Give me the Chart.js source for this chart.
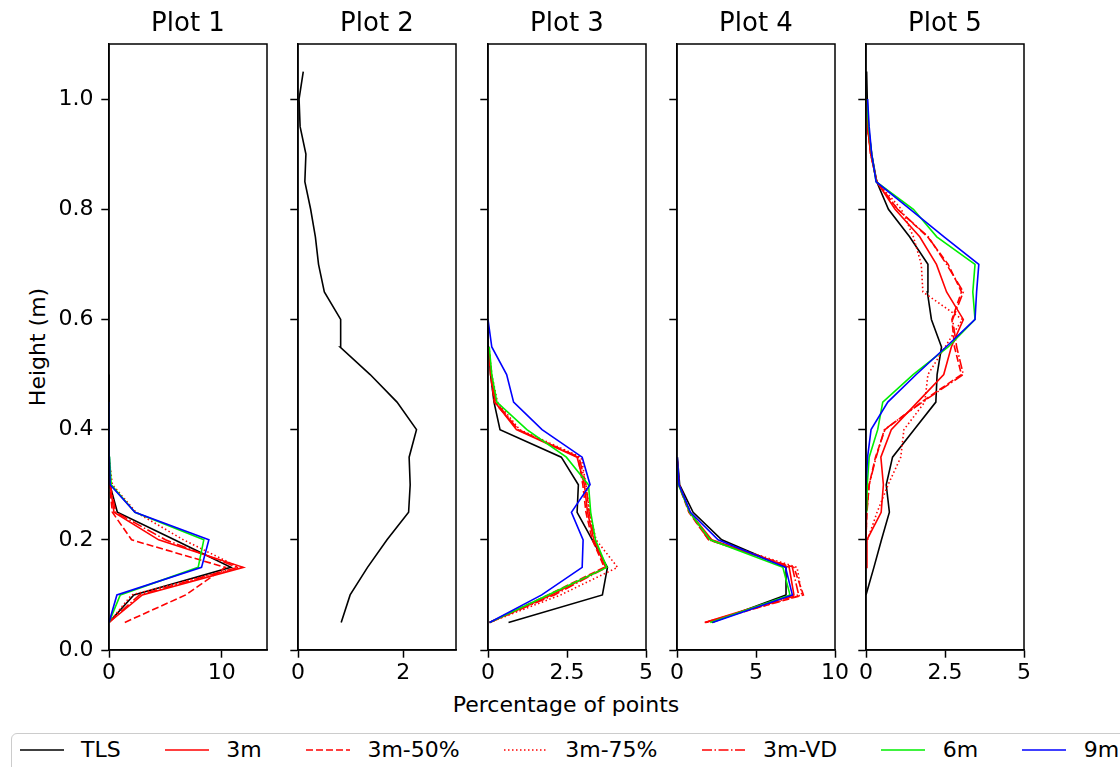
<!DOCTYPE html>
<html>
<head>
<meta charset="utf-8">
<title>Vertical point distribution</title>
<script src="https://cdn.jsdelivr.net/npm/chart.js@4.4.1/dist/chart.umd.min.js"></script>
<style>
  html, body { margin: 0; padding: 0; background: #fff; }
  #fig { position: relative; width: 1120px; height: 767px; overflow: hidden; font-family: 'DejaVu Sans', sans-serif; color: #000; }
  #fig canvas { position: absolute; top: 0; }
  .ylabel { position: absolute; left: 38px; top: 347px; font-size: 22px; line-height: 26px; white-space: nowrap; transform: translate(-50%, -50%) rotate(-90deg); }
  .xlabel { position: absolute; left: 566px; top: 692px; font-size: 22px; line-height: 26px; white-space: nowrap; transform: translateX(-50%); }
  #legend { position: absolute; left: 11px; top: 733px; width: 1200px; height: 60px; border: 1.5px solid #cccccc; border-radius: 6px; box-sizing: border-box; background: #fff; }
  #legend .items { position: absolute; left: 7.5px; top: 4px; height: 24px; display: flex; align-items: center; font-size: 22px; line-height: 24px; white-space: nowrap; }
  .item { display: flex; align-items: center; margin-right: 44px; }
  .item svg { width: 44px; height: 10px; margin-right: 17.6px; display: block; }
</style>
</head>
<body>
<div id="fig">
  <div class="ylabel">Height (m)</div>
  <div class="xlabel">Percentage of points</div>
  <div id="legend"><div class="items"></div></div>
</div>
<script>
Chart.defaults.font.family = "'DejaVu Sans', sans-serif";
Chart.defaults.color = '#000';

// height bins (m), every series below starts at the first bin
const heights = [0.05, 0.10, 0.15, 0.20, 0.25, 0.30, 0.35, 0.40, 0.45, 0.50, 0.55,
                 0.60, 0.65, 0.70, 0.75, 0.80, 0.85, 0.90, 0.95, 1.00, 1.05];

const seriesNames = ['TLS', '3m', '3m-50%', '3m-75%', '3m-VD', '6m', '9m'];
const plotTitles = ['Plot 1', 'Plot 2', 'Plot 3', 'Plot 4', 'Plot 5'];
const xMax = [14, 3, 5, 10, 5];
const xTicks = [[0, 10], [0, 2], [0, 2.5, 5], [0, 5, 10], [0, 2.5, 5]];
const yTicks = [0, 0.2, 0.4, 0.6, 0.8, 1.0];

// Plot 1
const p1TLS  = [0.0, 2.2, 10.8, 5.8, 0.74, 0.08, 0.02, 0.0, 0.0, 0.0];
const p1m3   = [0.0, 2.95, 11.9, 4.4, 0.44, 0.1, 0.0];
const p1m3h  = [1.4, 6.8, 10.3, 2.0, 0.3, 0.05, 0.0];
const p1m3q  = [0.0, 2.0, 11.5, 6.6, 2.4, 0.3, 0.0];
const p1m3vd = [0.0, 2.7, 11.4, 5.0, 0.6, 0.1, 0.0];
const p1m6   = [0.0, 1.0, 7.9, 8.4, 2.3, 0.2, 0.05, 0.0, 0.0];
const p1m9   = [0.0, 0.7, 8.2, 8.85, 2.3, 0.1, 0.03, 0.0, 0.0];

// Plot 2 (TLS only)
const p2TLS  = [0.82, 0.99, 1.32, 1.69, 2.10, 2.13, 2.11, 2.25, 1.88, 1.37, 0.80,
                0.81, 0.50, 0.39, 0.33, 0.24, 0.13, 0.15, 0.04, 0.02, 0.10];

// Plot 3
const p3TLS  = [0.65, 3.62, 3.78, 3.3, 2.82, 2.86, 2.32, 0.38, 0.19, 0.08, 0.02, 0.0];
const p3m3   = [0.05, 2.0, 3.72, 3.35, 3.15, 3.05, 2.82, 0.9, 0.22, 0.1, 0.02];
const p3m3h  = [0.05, 1.9, 3.68, 3.3, 3.1, 3.0, 2.85, 0.95, 0.2, 0.08, 0.02];
const p3m3q  = [0.05, 2.3, 4.1, 3.42, 3.22, 3.1, 2.95, 1.0, 0.3, 0.12, 0.03];
const p3m3vd = [0.05, 2.1, 3.75, 3.38, 3.2, 3.1, 2.88, 0.95, 0.25, 0.1, 0.02];
const p3m6   = [0.05, 1.9, 3.76, 3.4, 3.25, 3.18, 2.48, 1.23, 0.28, 0.12, 0.04];
const p3m9   = [0.05, 1.7, 2.98, 3.01, 2.64, 3.23, 2.98, 1.71, 0.81, 0.59, 0.12, 0.0];

// Plot 4
const p4TLS  = [2.2, 6.9, 6.9, 2.83, 1.02, 0.17, 0.02];
const p4m3   = [1.75, 7.4, 7.1, 2.2, 0.8, 0.12, 0.0];
const p4m3h  = [1.8, 8.0, 7.4, 2.0, 0.75, 0.1, 0.0];
const p4m3q  = [1.85, 7.9, 7.6, 2.1, 0.85, 0.15, 0.0];
const p4m3vd = [1.8, 7.7, 7.3, 2.0, 0.8, 0.12, 0.0];
const p4m6   = [2.1, 7.15, 6.7, 2.1, 0.8, 0.1, 0.0];
const p4m9   = [2.25, 7.3, 6.87, 2.6, 0.85, 0.13, 0.02];

// Plot 5
const p5TLS  = [null, 0.0, 0.25, 0.49, 0.74, 0.64, 0.84, 1.52, 2.21, 2.25, 2.39,
                2.07, 1.94, 1.96, 1.38, 0.71, 0.34, 0.18, 0.07, 0.04, 0.02];
const p5m3   = [null, null, 0.0, 0.03, 0.48, 0.55, 0.47, 0.8, 1.63, 2.46, 2.7,
                3.08, 2.55, 2.23, 1.7, 0.92, 0.34, 0.15, 0.05, 0.02];
const p5m3h  = [null, null, null, 0.0, 0.03, 0.1, 0.3, 0.6, 1.75, 3.02, 2.8,
                2.72, 3.02, 2.6, 1.95, 1.0, 0.34, 0.15, 0.05];
const p5m3q  = [null, null, null, 0.05, 0.35, 0.7, 1.1, 1.2, 1.86, 1.96, 2.5,
                3.05, 1.8, 1.75, 1.5, 1.12, 0.34, 0.15, 0.05];
const p5m3vd = [null, null, null, 0.0, 0.02, 0.1, 0.32, 0.58, 1.78, 3.08, 2.87,
                2.74, 3.08, 2.55, 1.97, 1.0, 0.34, 0.15, 0.05];
const p5m6   = [null, null, null, null, 0.02, 0.04, 0.1, 0.37, 0.53, 1.49, 2.6,
                3.45, 3.38, 3.45, 2.24, 1.5, 0.32, 0.18, 0.08, 0.03];
const p5m9   = [null, null, null, null, null, 0.0, 0.05, 0.16, 0.69, 1.59, 2.53,
                3.45, 3.5, 3.57, 2.47, 1.40, 0.32, 0.18, 0.1, 0.05];

const plotSeries = [
  [p1TLS, p1m3, p1m3h, p1m3q, p1m3vd, p1m6, p1m9],
  [p2TLS, null, null, null, null, null, null],
  [p3TLS, p3m3, p3m3h, p3m3q, p3m3vd, p3m6, p3m9],
  [p4TLS, p4m3, p4m3h, p4m3q, p4m3vd, p4m6, p4m9],
  [p5TLS, p5m3, p5m3h, p5m3q, p5m3vd, p5m6, p5m9],
];

// line styles per series
const colors = ['#000000', '#ff0000', '#ff0000', '#ff0000', '#ff0000', '#00ee00', '#0000ff'];
const dashes = [[], [], [7, 3], [1.5, 2.5], [10, 2.5, 1.5, 2.5], [], []];
const LINE_W = 1.6;

// axes geometry
const AX_LEFT = 109, AX_STEP = 189.25, AX_W = 158, SIDE = 100, CANVAS_H = 700;

const frame = {
  id: 'frame',
  afterDatasetsDraw(chart) {
    const { ctx, chartArea: a } = chart;
    ctx.save();
    ctx.strokeStyle = '#000';
    ctx.lineWidth = 1.5;
    ctx.strokeRect(a.left, a.top, a.right - a.left, a.bottom - a.top);
    ctx.restore();
  }
};

const fig = document.getElementById('fig');

plotTitles.forEach((title, p) => {
  const canvas = document.createElement('canvas');
  canvas.width = AX_W + 2 * SIDE;
  canvas.height = CANVAS_H;
  canvas.style.left = (AX_LEFT + p * AX_STEP - SIDE) + 'px';
  fig.appendChild(canvas);

  const datasets = [];
  plotSeries[p].forEach((values, s) => {
    if (!values) return;
    const pts = [];
    values.forEach((v, i) => { if (v !== null) pts.push({ x: v, y: heights[i] }); });
    datasets.push({
      label: seriesNames[s],
      data: pts,
      showLine: true,
      borderColor: colors[s],
      borderDash: dashes[s],
      borderWidth: LINE_W,
      pointRadius: 0,
      fill: false,
      tension: 0,
      order: seriesNames.length - s,
    });
  });

  const tickGrid = {
    display: true, drawOnChartArea: false, drawTicks: true,
    tickLength: 7.7, tickWidth: 1.5, tickColor: '#000',
  };

  new Chart(canvas.getContext('2d'), {
    type: 'scatter',
    data: { datasets },
    plugins: [frame],
    options: {
      animation: false,
      responsive: false,
      events: [],
      layout: { padding: { left: 0, right: SIDE, top: 0, bottom: 0 } },
      plugins: {
        legend: { display: false },
        tooltip: { enabled: false },
        title: {
          display: true,
          fullSize: false,
          text: title,
          color: '#000',
          font: { size: 26, weight: 'normal' },
          padding: { top: 8.5, bottom: 4.3 },
        },
      },
      scales: {
        x: {
          type: 'linear',
          min: 0,
          max: xMax[p],
          afterBuildTicks: (sc) => { sc.ticks = xTicks[p].map((v) => ({ value: v })); },
          afterFit: (sc) => { sc.height = CANVAS_H - 650; sc.paddingLeft = 0; sc.paddingRight = 0; },
          grid: tickGrid,
          border: { display: true, color: '#000', width: 1.5 },
          ticks: {
            color: '#000', font: { size: 22 }, padding: 2,
            maxRotation: 0, autoSkip: false,
            callback: (v) => String(v),
          },
        },
        y: {
          type: 'linear',
          min: 0,
          max: 1.1,
          afterBuildTicks: (sc) => { sc.ticks = yTicks.map((v) => ({ value: v })); },
          afterFit: (sc) => { sc.width = SIDE; sc.paddingTop = 0; sc.paddingBottom = 0; },
          grid: tickGrid,
          border: { display: true, color: '#000', width: 1.5 },
          ticks: {
            color: '#000', font: { size: 22 }, padding: 7.7, autoSkip: false,
            callback: (v) => (p === 0 ? v.toFixed(1) : ''),
          },
        },
      },
    },
  });
});

// legend row
const items = document.querySelector('#legend .items');
seriesNames.forEach((name, s) => {
  const item = document.createElement('div');
  item.className = 'item';
  const dash = dashes[s].length ? ` stroke-dasharray="${dashes[s].join(' ')}"` : '';
  item.innerHTML =
    `<svg viewBox="0 0 44 10"><line x1="0" y1="5" x2="44" y2="5" stroke="${colors[s]}" stroke-width="${LINE_W}"${dash}/></svg>` +
    `<span>${name}</span>`;
  items.appendChild(item);
});
</script>
</body>
</html>
